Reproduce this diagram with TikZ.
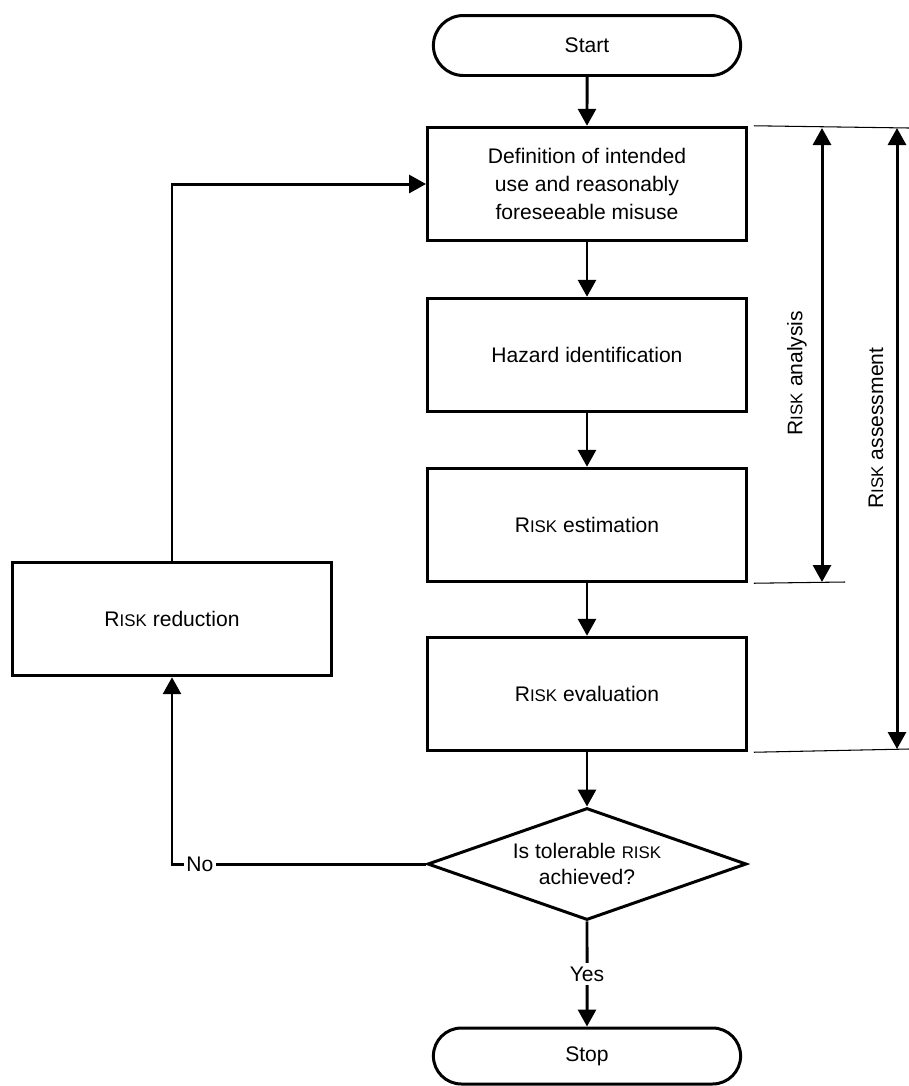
\documentclass[tikz,border=0pt]{standalone}
\usepackage{fontspec}
\setmainfont{Liberation Sans}
\usetikzlibrary{arrows.meta,shapes.geometric,shapes.misc}
\newcommand{\riskw}{R{\fontsize{9.6}{11}\selectfont ISK}}

\tikzset{
  txt/.style={font=\fontsize{12}{14.5}\selectfont},
  stepbox/.style={draw, txt, line width=1.7pt, minimum width=6.38cm, minimum height=2.27cm, align=center},
  termbox/.style={draw, txt, rounded rectangle, line width=1.7pt, minimum width=6.38cm, minimum height=1.2cm},
  askbox/.style={draw, txt, diamond, aspect=2.85, inner sep=0pt, line width=1.7pt, minimum width=6.38cm, minimum height=2.24cm, align=center},
  flow/.style={line width=1.7pt, -{Triangle[length=0.34cm,width=0.36cm]}},
  span/.style={line width=1.7pt, {Triangle[length=0.34cm,width=0.36cm]}-{Triangle[length=0.34cm,width=0.36cm]}},
  dimline/.style={line width=0.6pt}
}

\begin{document}
\begin{tikzpicture}[x=0.02cm,y=-0.02cm]
\useasboundingbox (0,0) rectangle (909,1086);

% main column
\node[termbox] (start) at (587,45.5) {Start};
\node[stepbox, font=\fontsize{12}{16}\selectfont] (def) at (587,184) {Definition of intended\\use and reasonably\\foreseeable misuse};
\node[stepbox] (haz) at (587,355) {Hazard identification};
\node[stepbox] (est) at (587,525) {\riskw{} estimation};
\node[stepbox] (eval) at (587,694) {\riskw{} evaluation};
\node[askbox] (ask) at (587,864) {Is tolerable {\fontsize{9.6}{11}\selectfont RISK}\\achieved?};
\node[termbox, minimum height=1.12cm] (stop) at (587,1056) {Stop};
\node[stepbox] (reduce) at (172,619) {\riskw{} reduction};

\draw[flow] (start) -- (def);
\draw[flow] (def) -- (haz);
\draw[flow] (haz) -- (est);
\draw[flow] (est) -- (eval);
\draw[flow] (eval) -- (ask);
\draw[flow] (ask) -- node[fill=white, inner sep=2pt, txt]{Yes} (stop);

% loop back
\coordinate (noturn) at (reduce.south |- ask.west);
\draw[flow] (ask.west) -- node[pos=0.89, fill=white, inner sep=1.5pt, txt]{No} (noturn) -- (reduce.south);
\draw[flow] (reduce.north) -- (reduce.north |- def.west) -- (def.west);

% extents on the right
\coordinate (topend) at (909,128);
\coordinate (estend) at (845,582);
\coordinate (evalend) at (909,749);
\draw[dimline] ([xshift=0.12cm]def.north east) -- (topend);
\draw[dimline] ([xshift=0.12cm]est.south east) -- (estend);
\draw[dimline] ([xshift=0.12cm]eval.south east) -- (evalend);

\coordinate (anatop) at (822,128);
\coordinate (anabot) at (822,582);
\coordinate (asstop) at (897,128);
\coordinate (assbot) at (897,749);
\draw[span] (anatop) -- (anabot);
\draw[span] (asstop) -- (assbot);
\node[txt, rotate=90] (analab) at (797,373) {\riskw{} analysis};
\node[txt, rotate=90] (asslab) at (876,428) {\riskw{} assessment};
\end{tikzpicture}
\end{document}
